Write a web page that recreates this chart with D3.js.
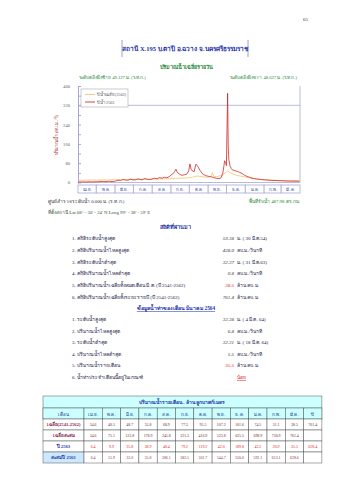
<!DOCTYPE html>
<html>
<head>
<meta charset="utf-8">
<script src="https://cdn.jsdelivr.net/npm/d3@7"></script>
<style>
  body { margin: 0; background: #fff; }
  svg { display: block; font-family: "Liberation Serif", "DejaVu Serif", serif; }
</style>
</head>
<body>
<div class="page"></div>
<script>
// ---- data ----
var months = ["เม.ย.","พ.ค.","มิ.ย.","ก.ค.","ส.ค.","ก.ย.","ต.ค.","พ.ย.","ธ.ค.","ม.ค.","ก.พ.","มี.ค."];
var monthStart = [0,30,61,91,122,153,183,214,244,275,306,334,365];
var yTicks = [0,80,160,240,320,400];

// daily flow, water year 2563 (day index from 1 Apr)
var obsDays = [0,3,7,10,14,18,22,26,30,34,38,42,46,50,54,58,62,66,70,74,78,82,86,90,94,98,102,106,110,114,118,122,126,130,134,138,142,146,150,153,157,159,161,163,165,168,171,175,179,182,184,186,188,191,193,194,196,198,200,202,204,206,209,212,216,220,224,228,232,235,238,240,241,243,244,246,247,248,250,252,254,258,262,266,270,274,278,282,286,290,295,300,306,312,318,324,330,336,342,348,354,360,364];
var obsFlow = [2.2,2.0,2.5,2.3,2.1,2.8,2.4,2.6,3.0,3.4,4.6,3.8,3.5,5.2,4.0,4.4,6.0,9.5,8.0,12.5,10.4,9.0,13.8,11.2,10.5,15.0,12.8,11.6,16.4,13.0,12.2,14.6,18.0,15.2,20.5,17.4,21.8,19.6,24.0,31,38,46,55,44,38,33,30,32,35,48,77,55,48,45,68,76,70,63,52,45,38,34,30,27,25,23,20,17,16,19,38,70,90,78,70,370,150,95,68,58,52,49,46,42,37,30,25,22,18,16,14,12.5,11,10,9,8.5,7.5,6.8,6.2,5.8,5.6,5.5,5.5];

// average daily flow
var avgDays = [0,10,20,30,40,50,60,70,80,90,100,110,120,130,140,150,160,170,180,188,196,204,212,218,221,223,228,234,240,244,246,249,254,260,266,272,280,290,300,310,320,330,340,350,364];
var avgFlow = [9,9.5,10,10,10.5,11,11.5,12,12.5,13,13,13.5,14,14.5,15,15.5,17,18,19,22,27,24,22,24,40,26,24,28,36,44,48,42,36,30,27,24,20,16,13,11,9.5,8.5,8,7.5,7];

var legendNames = ["ปีน้ำเฉลี่ย (2562)", "ปีน้ำ 2563"];

var stats = [
  ["1. สถิติระดับน้ำสูงสุด", "59.38", "ม. ( 30 มี.ค.54)"],
  ["2. สถิติปริมาณน้ำไหลสูงสุด", "428.0", "ลบ.ม./วินาที"],
  ["3. สถิติระดับน้ำต่ำสุด", "32.37", "ม. ( 31 มี.ค.63)"],
  ["4. สถิติปริมาณน้ำไหลต่ำสุด", "0.8", "ลบ.ม./วินาที"],
  ["5. สถิติปริมาณน้ำเฉลี่ยทั้งหมดเดือน  มี.ค.    (ปี 2541-2562)", "38.5", "ล้าน ลบ.ม."],
  ["6. สถิติปริมาณน้ำเฉลี่ยทั้งระยะรายปี (ปี 2541-2562)", "761.4", "ล้าน ลบ.ม."]
];
var monthInfo = [
  ["1. ระดับน้ำสูงสุด", "32.38", "ม. ( 4 มี.ค. 64)"],
  ["2. ปริมาณน้ำไหลสูงสุด", "6.8", "ลบ.ม./วินาที"],
  ["3. ระดับน้ำต่ำสุด", "32.31", "ม. ( 18 มี.ค. 64)"],
  ["4. ปริมาณน้ำไหลต่ำสุด", "5.5", "ลบ.ม./วินาที"],
  ["5. ปริมาณน้ำรายเดือน", "35.5", "ล้าน ลบ.ม."],
  ["6. น้ำท่าประจำเดือนนี้อยู่ในเกณฑ์", "", "น้อย"]
];

var tableHead = ["เดือน","เม.ย.","พ.ค.","มิ.ย.","ก.ค.","ส.ค.","ก.ย.","ต.ค.","พ.ย.","ธ.ค.","ม.ค.","ก.พ.","มี.ค.","ปี"];
var rowNames = ["เฉลี่ย(2541-2562)","เฉลี่ยสะสม","ปี 2563","สะสมปี 2563"];
var rowMean = [34.6,40.5,48.7,55.8,68.9,77.5,95.5,107.2,101.6,74.5,31.1,38.5,761.4];
var rowMeanCum = [34.6,75.1,123.8,178.9,245.8,321.3,416.9,523.8,625.5,698.9,730.9,761.4,null];
var rowYear = [6.4,9.9,35.8,38.9,40.4,79.2,119.2,42.0,189.8,42.2,20.9,35.5,628.4];
var rowYearCum = [6.4,15.9,32.0,55.8,306.1,382.5,501.7,544.7,550.0,592.1,613.1,628.6,null];

// ---- drawing ----
var W = 339, H = 480;
var svg = d3.select(".page").append("svg")
    .attr("width", W)
    .attr("height", H);

svg.append("rect").attr("width", W).attr("height", H).attr("fill", "#fff");

var axisCol = "#a8a8d8";

// page number + station title
svg.append("text").attr("x", 303).attr("y", 21).attr("font-size", 5).attr("fill", "#333").text("65");

svg.append("line").attr("x1", 122).attr("x2", 122).attr("y1", 40).attr("y2", 57).attr("stroke", "#8888bb").attr("stroke-width", 0.8);
svg.append("line").attr("x1", 248).attr("x2", 248).attr("y1", 40).attr("y2", 57).attr("stroke", "#8888bb").attr("stroke-width", 0.8);
svg.append("text")
    .attr("x", 185).attr("y", 51)
    .attr("text-anchor", "middle")
    .attr("font-size", 6.5)
    .attr("font-weight", "bold")
    .attr("fill", "#2233aa")
    .text("สถานี X.195 บ.ตาปี อ.ฉวาง จ.นครศรีธรรมราช");

svg.append("text").attr("x", 186).attr("y", 69).attr("text-anchor", "middle")
    .attr("font-size", 5.5).attr("font-weight", "bold").attr("fill", "#228833")
    .text("ปริมาณน้ำเฉลี่ยรายวัน");
svg.append("text").attr("x", 79).attr("y", 79).attr("font-size", 4.6).attr("fill", "#228833")
    .text("ระดับตลิ่งฝั่งซ้าย 49.127 ม. (ร.ท.ก.)");
svg.append("text").attr("x", 297).attr("y", 79).attr("text-anchor", "end").attr("font-size", 4.6).attr("fill", "#228833")
    .text("ระดับตลิ่งฝั่งขวา 48.627 ม. (ร.ท.ก.)");

// ---- chart ----
var x = d3.scaleLinear().domain([0, 365]).range([78, 300]);
var y = d3.scaleLinear().domain([0, 400]).range([182.5, 86]);

var yAxis = d3.axisLeft(y)
    .tickValues(d3.range(0, 401, 40))
    .tickSizeInner(-3)
    .tickSizeOuter(0)
    .tickPadding(8)
    .tickFormat(function(d) { return yTicks.indexOf(d) >= 0 ? d : ""; });

var gy = svg.append("g").attr("transform", "translate(78,0)").call(yAxis);
gy.selectAll("path, line").attr("stroke", axisCol);
gy.selectAll("text").attr("font-size", 4.6).attr("fill", "#666").attr("font-family", "Liberation Serif, serif");

svg.append("line").attr("x1", x(0)).attr("x2", x(365)).attr("y1", y(0)).attr("y2", y(0)).attr("stroke", axisCol).attr("stroke-width", 0.8);
svg.append("line").attr("x1", x(0)).attr("x2", x(365)).attr("y1", y(320)).attr("y2", y(320)).attr("stroke", axisCol).attr("stroke-width", 0.8);
svg.append("line").attr("x1", x(365)).attr("x2", x(365)).attr("y1", y(400)).attr("y2", y(0)).attr("stroke", axisCol).attr("stroke-width", 0.8);

svg.append("text")
    .attr("transform", "translate(58,135) rotate(-90)")
    .attr("text-anchor", "middle")
    .attr("font-size", 4.6)
    .attr("fill", "#b04040")
    .text("ปริมาณน้ำ (ลบ.ม./วิ)");

// month boxes
var mb = svg.append("g").attr("class", "months");
mb.selectAll("rect")
    .data(months)
    .enter().append("rect")
    .attr("x", function(d, i) { return x(monthStart[i]); })
    .attr("y", 185)
    .attr("width", function(d, i) { return x(monthStart[i + 1]) - x(monthStart[i]); })
    .attr("height", 8)
    .attr("fill", "#fff")
    .attr("stroke", axisCol)
    .attr("stroke-width", 0.8);
mb.selectAll("text")
    .data(months)
    .enter().append("text")
    .attr("x", function(d, i) { return (x(monthStart[i]) + x(monthStart[i + 1])) / 2; })
    .attr("y", 190.8)
    .attr("text-anchor", "middle")
    .attr("font-size", 4.3)
    .attr("fill", "#3344aa")
    .text(function(d) { return d; });

var line = d3.line()
    .x(function(d) { return x(d[0]); })
    .y(function(d) { return y(d[1]); });

svg.append("path")
    .datum(avgDays.map(function(d, i) { return [d, avgFlow[i]]; }))
    .attr("d", line)
    .attr("fill", "none")
    .attr("stroke", "#f5c26b")
    .attr("stroke-width", 0.8);

svg.append("path")
    .datum(obsDays.map(function(d, i) { return [d, obsFlow[i]]; }))
    .attr("d", line)
    .attr("fill", "none")
    .attr("stroke", "#cc2a2a")
    .attr("stroke-width", 0.8);

// legend
var lg = svg.append("g").attr("transform", "translate(81,89)");
lg.append("rect").attr("width", 47).attr("height", 18).attr("fill", "#fff").attr("stroke", "#aaa").attr("stroke-width", 0.6);
var legCols = ["#f5c26b", "#cc2a2a"];
legendNames.forEach(function(name, i) {
    lg.append("line").attr("x1", 4).attr("x2", 14).attr("y1", 5.5 + i * 7.5).attr("y2", 5.5 + i * 7.5)
        .attr("stroke", legCols[i]).attr("stroke-width", 0.9);
    lg.append("text").attr("x", 16).attr("y", 7 + i * 7.5).attr("font-size", 4.2).attr("fill", "#556")
        .text(name);
});

// under chart notes
svg.append("text").attr("x", 48).attr("y", 203).attr("font-size", 4.8).attr("fill", "#333")
    .text("ศูนย์สำรวจระดับน้ำ 0.000 ม. (ร.ท.ก.)");
svg.append("text").attr("x", 300).attr("y", 203).attr("text-anchor", "end").attr("font-size", 4.8).attr("fill", "#228833")
    .text("พื้นที่รับน้ำ 487.98 ตร.กม.");
svg.append("text").attr("x", 48).attr("y", 214).attr("font-size", 4.8).attr("fill", "#335533")
    .text("ที่ตั้งสถานี Lat 08° - 30' - 24' N  Long 99° - 38' - 59' E");

// ---- statistics ----
svg.append("text").attr("x", 175).attr("y", 229).attr("text-anchor", "middle")
    .attr("font-size", 5.5).attr("font-weight", "bold").attr("fill", "#2233aa")
    .text("สถิติที่ผ่านมา");

function infoList(rows, top, step, redRows) {
    var g = svg.append("g");
    var r = g.selectAll("g").data(rows).enter().append("g")
        .attr("transform", function(d, i) { return "translate(0," + (top + i * step) + ")"; });
    r.append("text").attr("x", 72).attr("font-size", 5).attr("fill", "#1a1a4a")
        .text(function(d) { return d[0]; });
    r.append("text").attr("x", 234).attr("text-anchor", "end").attr("font-size", 5).attr("font-style", "italic")
        .attr("fill", function(d, i) { return redRows.indexOf(i) >= 0 ? "#dd2222" : "#333"; })
        .text(function(d) { return d[1]; });
    r.append("text").attr("x", 237).attr("font-size", 5)
        .attr("fill", function(d) { return d[1] === "" ? "#dd2222" : "#1a1a4a"; })
        .attr("text-decoration", function(d) { return d[1] === "" ? "underline" : null; })
        .text(function(d) { return d[2]; });
}
infoList(stats, 240, 11.8, [4]);

svg.append("text").attr("x", 176).attr("y", 310).attr("text-anchor", "middle")
    .attr("font-size", 5.3).attr("font-weight", "bold").attr("fill", "#2233aa")
    .attr("text-decoration", "underline")
    .text("ข้อมูลน้ำท่าของเดือน มีนาคม 2564");

infoList(monthInfo, 321, 11.6, [4]);

// ---- monthly volume table ----
var tx = 43, col0 = 41, colW = 18.3;
var tTop = 396, titleH = 12, headH = 11, rowH = 11;
var tRight = tx + col0 + colW * 13;
var tb = svg.append("g").attr("class", "table");

tb.append("rect").attr("x", tx).attr("y", tTop).attr("width", tRight - tx).attr("height", titleH + headH)
    .attr("fill", "#ccffff").attr("stroke", "#555").attr("stroke-width", 0.5);
tb.append("line").attr("x1", tx).attr("x2", tRight).attr("y1", tTop + titleH).attr("y2", tTop + titleH)
    .attr("stroke", "#555").attr("stroke-width", 0.5);
tb.append("text").attr("x", 182).attr("y", tTop + 8).attr("text-anchor", "middle")
    .attr("font-size", 5).attr("font-weight", "bold").attr("fill", "#2233aa")
    .text("ปริมาณน้ำรายเดือน - ล้าน ลูกบาศก์เมตร");

function colX(i) { return i === 0 ? tx : tx + col0 + (i - 1) * colW; }
function colWidth(i) { return i === 0 ? col0 : colW; }

tb.selectAll(".hcell").data(tableHead).enter().append("rect")
    .attr("class", "hcell")
    .attr("x", function(d, i) { return colX(i); })
    .attr("y", tTop + titleH)
    .attr("width", function(d, i) { return colWidth(i); })
    .attr("height", headH)
    .attr("fill", "#ccffff").attr("stroke", "#555").attr("stroke-width", 0.5);
tb.selectAll(".htext").data(tableHead).enter().append("text")
    .attr("class", "htext")
    .attr("x", function(d, i) { return colX(i) + colWidth(i) / 2; })
    .attr("y", tTop + titleH + 7.5)
    .attr("text-anchor", "middle")
    .attr("font-size", 4.5)
    .attr("fill", "#223388")
    .text(function(d) { return d; });

var tableRows = [rowMean, rowMeanCum, rowYear, rowYearCum];
var rowCols = ["#6a2a2a", "#6a2a2a", "#dd2222", "#8a3030"];
var labelCols = ["#882244", "#882244", "#2233aa", "#2233aa"];
var labelFill = ["#fff", "#fff", "#fff", "#cce8ff"];

tableRows.forEach(function(vals, r) {
    var ry = tTop + titleH + headH + r * rowH;
    var cells = [rowNames[r]].concat(vals);
    tb.selectAll(".r" + r).data(cells).enter().append("rect")
        .attr("class", "r" + r)
        .attr("x", function(d, i) { return colX(i); })
        .attr("y", ry)
        .attr("width", function(d, i) { return colWidth(i); })
        .attr("height", rowH)
        .attr("fill", function(d, i) { return i === 0 ? labelFill[r] : "#fff"; })
        .attr("stroke", "#555").attr("stroke-width", 0.5);
    tb.selectAll(".t" + r).data(cells).enter().append("text")
        .attr("class", "t" + r)
        .attr("x", function(d, i) { return colX(i) + colWidth(i) / 2; })
        .attr("y", ry + 7.3)
        .attr("text-anchor", "middle")
        .attr("font-size", function(d, i) { return i === 0 ? 4.6 : 3.9; })
        .attr("font-weight", function(d, i) { return i === 0 ? "bold" : null; })
        .attr("fill", function(d, i) { return i === 0 ? labelCols[r] : rowCols[r]; })
        .text(function(d, i) { return d === null ? "" : (i === 0 ? d : d3.format(".1f")(d)); });
});
</script>
</body>
</html>
